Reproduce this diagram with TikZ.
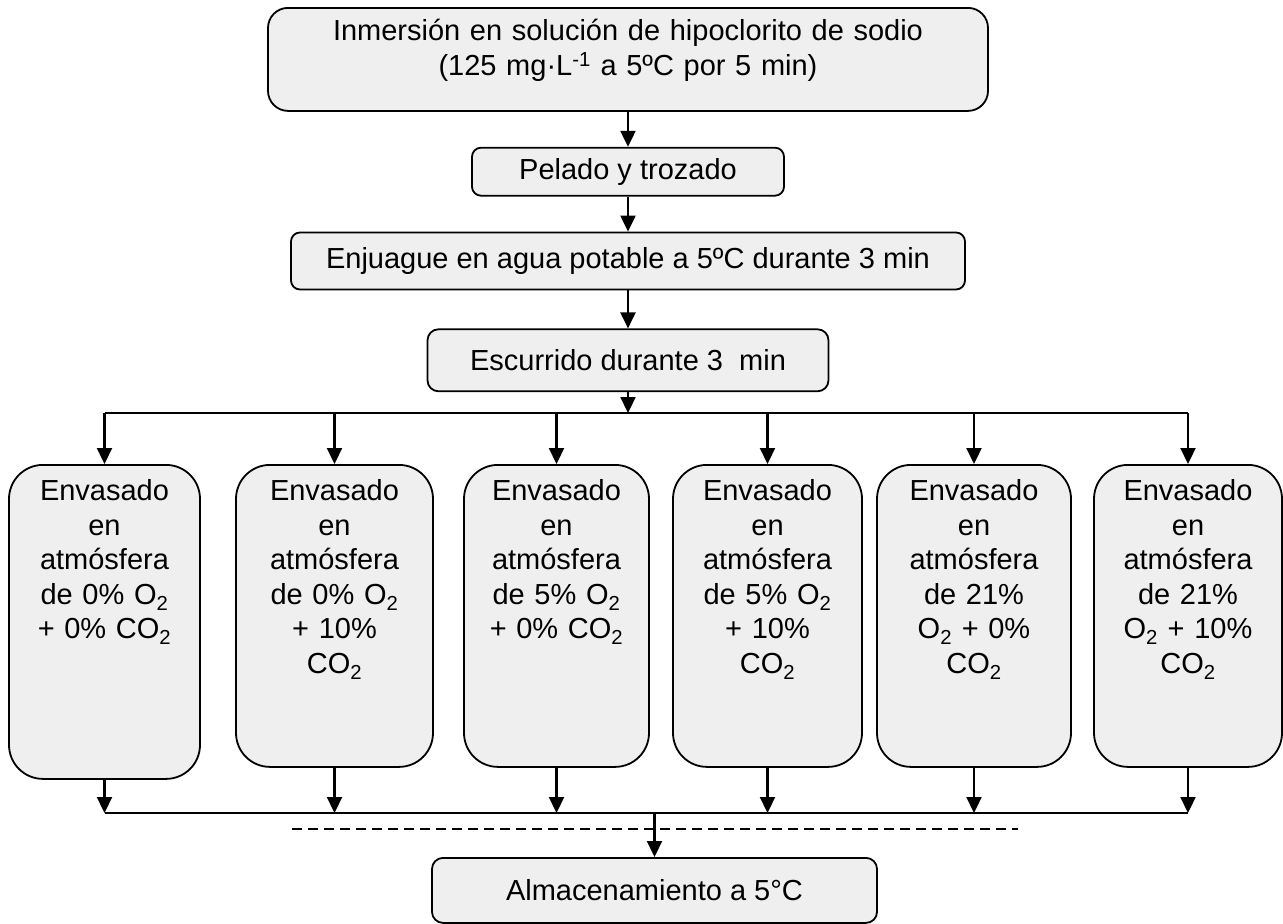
\documentclass[tikz,border=0pt]{standalone}
\usepackage{fontspec}
\setmainfont{Liberation Sans}
\usetikzlibrary{positioning,arrows.meta}
\definecolor{boxgrey}{HTML}{EFEFEF}
\begin{document}
\begin{tikzpicture}[
  x=1pt, y=-1pt,
  node distance=35pt,
  every node/.style={font=\fontsize{29pt}{34.5pt}\selectfont},
  stepbox/.style={draw, fill=boxgrey, line width=1.8pt, rounded corners=9pt, align=center, inner sep=0pt},
  packbox/.style={stepbox, rounded corners=34pt, anchor=north, text height=36pt, text depth=266pt},
  arrow/.style={-{Triangle[width=15pt,length=16pt]}, line width=2.2pt}
]
\useasboundingbox (0,0) rectangle (1283,924);
\node[stepbox, anchor=north, text width=720pt, text height=33pt, text depth=70pt, rounded corners=20pt] (a) at (628,7) {Inmersión en solución de hipoclorito de sodio\\(125 mg·L\textsuperscript{-1} a 5ºC por 5 min)};
\node[stepbox, below=35pt of a, minimum width=312pt, minimum height=48pt] (b) {Pelado y trozado};
\node[stepbox, below=35pt of b, minimum width=674pt, minimum height=57pt] (c) {Enjuague en agua potable a 5ºC durante 3 min};
\node[stepbox, below=38pt of c, minimum width=401pt, minimum height=62pt, rounded corners=11pt] (d) {Escurrido durante 3~~min};
\coordinate (split) at (628,413);
\node[packbox, text width=191pt, text depth=278pt] (e1) at (104.5,464) {Envasado\\en\\atmósfera\\de 0\% O\textsubscript{2}\\+ 0\% CO\textsubscript{2}};
\node[packbox, text width=197pt] (e2) at (334.5,464) {Envasado\\en\\atmósfera\\de 0\% O\textsubscript{2}\\+ 10\%\\CO\textsubscript{2}};
\node[packbox, text width=185pt] (e3) at (556.5,464) {Envasado\\en\\atmósfera\\de 5\% O\textsubscript{2}\\+ 0\% CO\textsubscript{2}};
\node[packbox, text width=189pt] (e4) at (767.5,464) {Envasado\\en\\atmósfera\\de 5\% O\textsubscript{2}\\+ 10\%\\CO\textsubscript{2}};
\node[packbox, text width=194pt] (e5) at (974,464) {Envasado\\en\\atmósfera\\de 21\%\\O\textsubscript{2} + 0\%\\CO\textsubscript{2}};
\node[packbox, text width=188pt] (e6) at (1188,464) {Envasado\\en\\atmósfera\\de 21\%\\O\textsubscript{2} + 10\%\\CO\textsubscript{2}};
\coordinate (join) at (654.5,813);
\node[stepbox, anchor=north, minimum width=445pt, minimum height=65pt, rounded corners=11pt] (f) at (654.5,857) {Almacenamiento a 5°C};
\draw[arrow] (a) -- (b);
\draw[arrow] (b) -- (c);
\draw[arrow] (c) -- (d);
\draw[arrow] (d) -- (split);
\draw[line width=2.2pt] (e1.north |- split) -- (e6.north |- split);
\draw[arrow] (e1.north |- split) -- (e1.north);
\draw[arrow] (e2.north |- split) -- (e2.north);
\draw[arrow] (e3.north |- split) -- (e3.north);
\draw[arrow] (e4.north |- split) -- (e4.north);
\draw[arrow] (e5.north |- split) -- (e5.north);
\draw[arrow] (e6.north |- split) -- (e6.north);
\draw[arrow] (e1.south) -- (e1.south |- join);
\draw[arrow] (e2.south) -- (e2.south |- join);
\draw[arrow] (e3.south) -- (e3.south |- join);
\draw[arrow] (e4.south) -- (e4.south |- join);
\draw[arrow] (e5.south) -- (e5.south |- join);
\draw[arrow] (e6.south) -- (e6.south |- join);
\draw[line width=2.2pt] (e1.south |- join) -- (e6.south |- join);
\draw[line width=1.8pt, dash pattern=on 10pt off 6pt] (292,829) -- (1018,829);
\draw[arrow] (join) -- (f);
\end{tikzpicture}
\end{document}
